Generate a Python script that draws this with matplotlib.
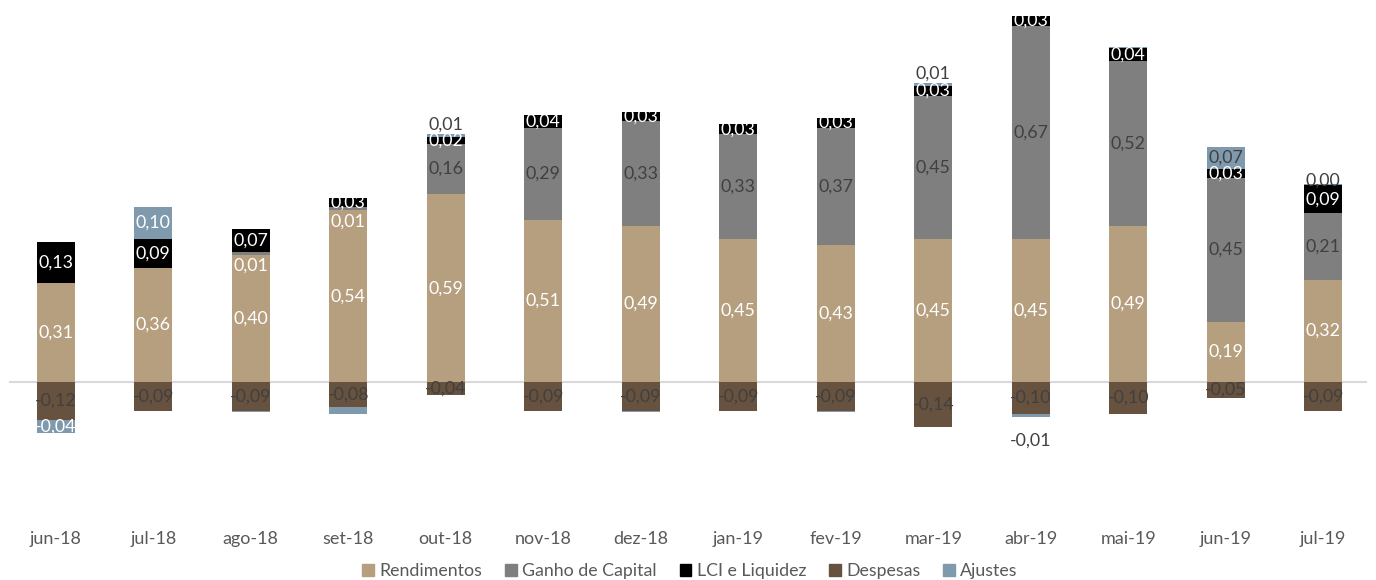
import matplotlib
matplotlib.use("Agg")
import matplotlib.pyplot as plt
import numpy as np
from matplotlib.patches import Patch

plt.rcParams['font.family'] = ['Lato', 'DejaVu Sans']

months = ["jun-18", "jul-18", "ago-18", "set-18", "out-18", "nov-18", "dez-18",
          "jan-19", "fev-19", "mar-19", "abr-19", "mai-19", "jun-19", "jul-19"]
rendimentos = [0.31, 0.36, 0.40, 0.54, 0.59, 0.51, 0.49, 0.45, 0.43, 0.45, 0.45, 0.49, 0.19, 0.32]
ganho_capital = [0.00, 0.00, 0.01, 0.01, 0.16, 0.29, 0.33, 0.33, 0.37, 0.45, 0.67, 0.52, 0.45, 0.21]
lci_liquidez = [0.13, 0.09, 0.07, 0.03, 0.02, 0.04, 0.03, 0.03, 0.03, 0.03, 0.03, 0.04, 0.03, 0.09]
despesas = [-0.12, -0.09, -0.09, -0.08, -0.04, -0.09, -0.09, -0.09, -0.09, -0.14, -0.10, -0.10, -0.05, -0.09]
ajustes = [-0.04, 0.10, -0.004, -0.02, 0.01, 0.0, -0.004, 0.0, -0.003, 0.01, -0.01, 0.004, 0.07, 0.003]
ajustes_labels = ["-0,04", "0,10", None, None, "0,01", None, None, None, None, "0,01", "-0,01", None, "0,07", "0,00"]

C_REND = "#B69F7F"
C_GANHO = "#7F7F7F"
C_LCI = "#000000"
C_DESP = "#66523E"
C_AJ = "#7F9AAD"
DARK = "#404040"

W, H = 1376, 580
fig = plt.figure(figsize=(W / 100, H / 100), dpi=100)
ax = fig.add_axes([7 / W, 1 - 510 / H, (1372 - 7) / W, 510 / H])
ax.set_xlim(-0.5, 13.5)
ax.set_ylim(-(510 - 382) / 318, 382 / 318)

x = np.arange(len(months))
bw = 0.39
rend = np.array(rendimentos)
ganho = np.array(ganho_capital)
lci = np.array(lci_liquidez)
desp = np.array(despesas)
aj = np.array(ajustes)

ax.axhline(0, color="#D9D9D9", lw=1.5, zorder=0, xmin=3 / 1365, xmax=1 - 6 / 1365)

ax.bar(x, rend, bw, color=C_REND, zorder=2)
ax.bar(x, ganho, bw, bottom=rend, color=C_GANHO, zorder=2)
ax.bar(x, lci, bw, bottom=rend + ganho, color=C_LCI, zorder=2)
ax.bar(x, desp, bw, color=C_DESP, zorder=2)
pos_top = rend + ganho + lci
aj_bottom = np.where(aj >= 0, pos_top, desp)
ax.bar(x, aj, bw, bottom=aj_bottom, color=C_AJ, zorder=2)

def fmt(v):
    return ("%.2f" % v).replace(".", ",")

fs = 12.8
for i in range(len(months)):
    ax.text(x[i], rend[i] / 2, fmt(rend[i]), ha="center", va="center", color="white", fontsize=fs, zorder=5)
    if ganho[i] > 0:
        if ganho[i] < 0.05:
            ax.annotate(fmt(ganho[i]), (x[i], rend[i] + ganho[i] / 2), xytext=(0, -9),
                        textcoords="offset points", ha="center", va="center", color="white",
                        fontsize=fs, zorder=5)
        else:
            ax.text(x[i], rend[i] + ganho[i] / 2, fmt(ganho[i]), ha="center", va="center",
                    color=DARK, fontsize=fs, zorder=5)
    ax.text(x[i], rend[i] + ganho[i] + lci[i] / 2, fmt(lci[i]), ha="center", va="center", color="white", fontsize=fs, zorder=5)
    ax.text(x[i], desp[i] / 2, fmt(desp[i]), ha="center", va="center", color=DARK, fontsize=fs, zorder=5)
    lab = ajustes_labels[i]
    if lab is not None:
        v = aj[i]
        if abs(v) >= 0.03:
            col = "white" if (v >= 0.08 or v <= -0.03) else DARK
            ax.text(x[i], aj_bottom[i] + v / 2, lab, ha="center", va="center", color=col, fontsize=fs, zorder=5)
        elif v >= 0:
            off = 7 if v >= 0.005 else 2
            ax.annotate(lab, (x[i], aj_bottom[i] + v), xytext=(0, off), textcoords="offset points",
                        ha="center", va="center", color=DARK, fontsize=fs, zorder=5)
        else:
            ax.annotate(lab, (x[i], aj_bottom[i] + v), xytext=(0, -17), textcoords="offset points",
                        ha="center", va="center", color=DARK, fontsize=fs, zorder=5)

ax.set_xticks(x)
ax.set_xticklabels(months, fontsize=13, color="#595959")
ax.tick_params(axis="x", length=0, pad=15)
ax.set_yticks([])
for s in ax.spines.values():
    s.set_visible(False)

handles = [Patch(color=C_REND, label="Rendimentos"),
           Patch(color=C_GANHO, label="Ganho de Capital"),
           Patch(color=C_LCI, label="LCI e Liquidez"),
           Patch(color=C_DESP, label="Despesas"),
           Patch(color=C_AJ, label="Ajustes")]
leg = fig.legend(handles=handles, loc="center", bbox_to_anchor=(690 / W, 1 - 571 / H), ncol=5,
                 frameon=False, fontsize=12.8, handlelength=0.65, handleheight=0.65,
                 handletextpad=0.3, columnspacing=1.3)
for t in leg.get_texts():
    t.set_color("#595959")

fig.savefig("out.png", dpi=100)
